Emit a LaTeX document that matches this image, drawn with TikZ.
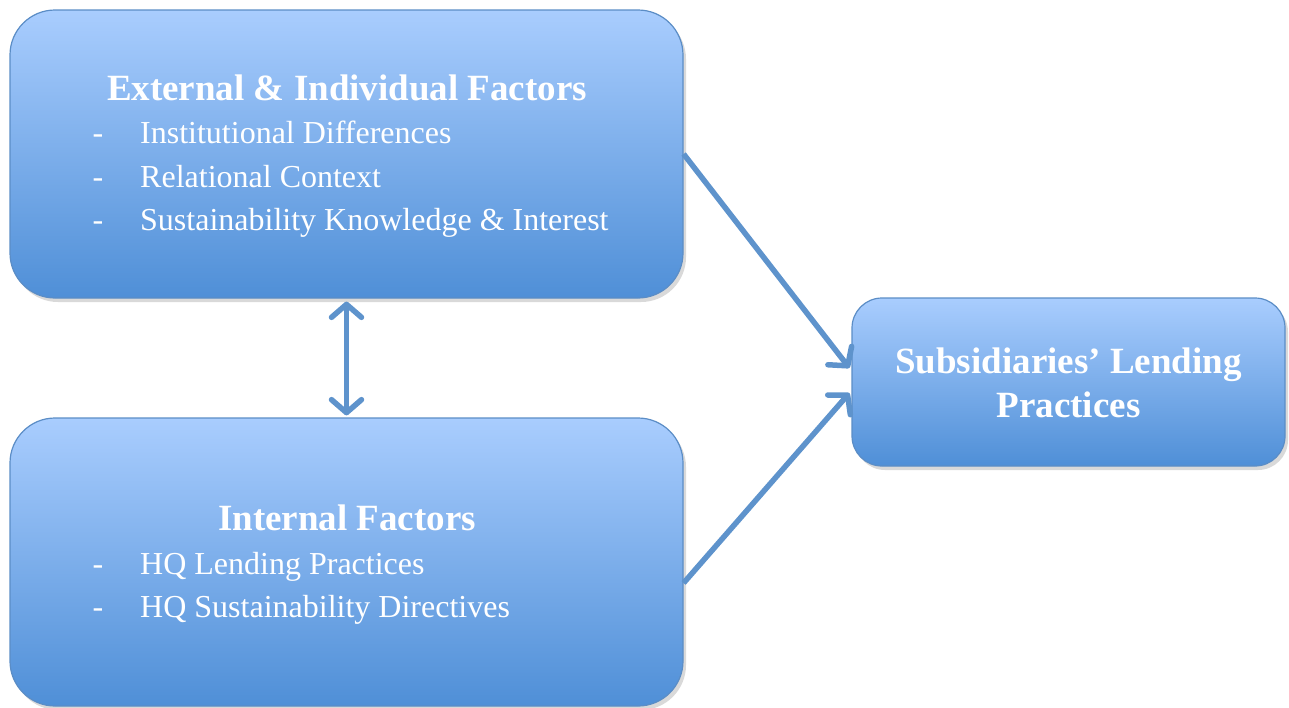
\documentclass[tikz,border=0pt]{standalone}
\usepackage{fontspec}
\setmainfont{Liberation Serif}
\usetikzlibrary{arrows.meta,shadows,calc}
\definecolor{boxtop}{HTML}{A9CDFE}
\definecolor{boxbot}{HTML}{4F8FD7}
\definecolor{boxline}{HTML}{5B8DC6}
\definecolor{linkcol}{HTML}{5E93CC}
\tikzset{
  factorbox/.style={draw=boxline, line width=1.2pt, top color=boxtop, bottom color=boxbot,
    drop shadow={shadow xshift=3pt, shadow yshift=-4pt, opacity=0.25, fill=black!60},
    inner sep=0pt},
  heading/.style={text=white, font=\fontsize{37}{44}\selectfont\bfseries, inner sep=0pt, anchor=base},
  item/.style={text=white, font=\fontsize{32}{40}\selectfont, inner sep=0pt, anchor=base west},
  itemdash/.style={text=white, font=\fontsize{32}{40}\selectfont, inner sep=0pt, anchor=base},
  barb/.tip={Straight Barb[length=13pt,width=30pt,line width=5.5pt,round]},
  link/.style={draw=linkcol, line width=5.5pt, -barb},
  linkboth/.style={draw=linkcol, line width=5.5pt, barb-barb}
}
\begin{document}
\begin{tikzpicture}[x=1pt,y=-1pt]
\useasboundingbox (0,0) rectangle (1289,707);

% boxes
\node[factorbox, rounded corners=45pt, minimum width=673pt, minimum height=288pt] (ext) at (346.5,154) {};
\node[factorbox, rounded corners=45pt, minimum width=673pt, minimum height=288pt] (int) at (346.5,562) {};
\node[factorbox, rounded corners=30pt, minimum width=433pt, minimum height=168pt] (out) at (1068.5,382) {};

% external & individual factors
\node[heading] (extT) at (347,100.5) {External \& Individual Factors};
\node[itemdash] (d1) at (98,143.5) {-};
\node[item] (e1) at (140,143.5) {Institutional Differences};
\node[itemdash] (d2) at (98,187) {-};
\node[item] (e2) at (140,187) {Relational Context};
\node[itemdash] (d3) at (98,230.5) {-};
\node[item] (e3) at (140,230.5) {Sustainability Knowledge \& Interest};

% internal factors
\node[heading] (intT) at (347,530.5) {Internal Factors};
\node[itemdash] (d4) at (98,574.5) {-};
\node[item] (i1) at (140,574.5) {HQ Lending Practices};
\node[itemdash] (d5) at (98,617.5) {-};
\node[item] (i2) at (140,617.5) {HQ Sustainability Directives};

% outcome
\node[heading] (outT1) at (1068.5,373.5) {Subsidiaries’ Lending};
\node[heading] (outT2) at (1068.5,417.5) {Practices};

% connectors
\draw[linkboth] ($(ext.south)+(0,3)$) -- ($(int.north)+(0,-2)$);
\draw[link] (ext.east) -- ($(out.west)+(-2,-14)$);
\draw[link] ($(int.east)+(0,21)$) -- ($(out.west)+(-2,11)$);
\end{tikzpicture}
\end{document}
